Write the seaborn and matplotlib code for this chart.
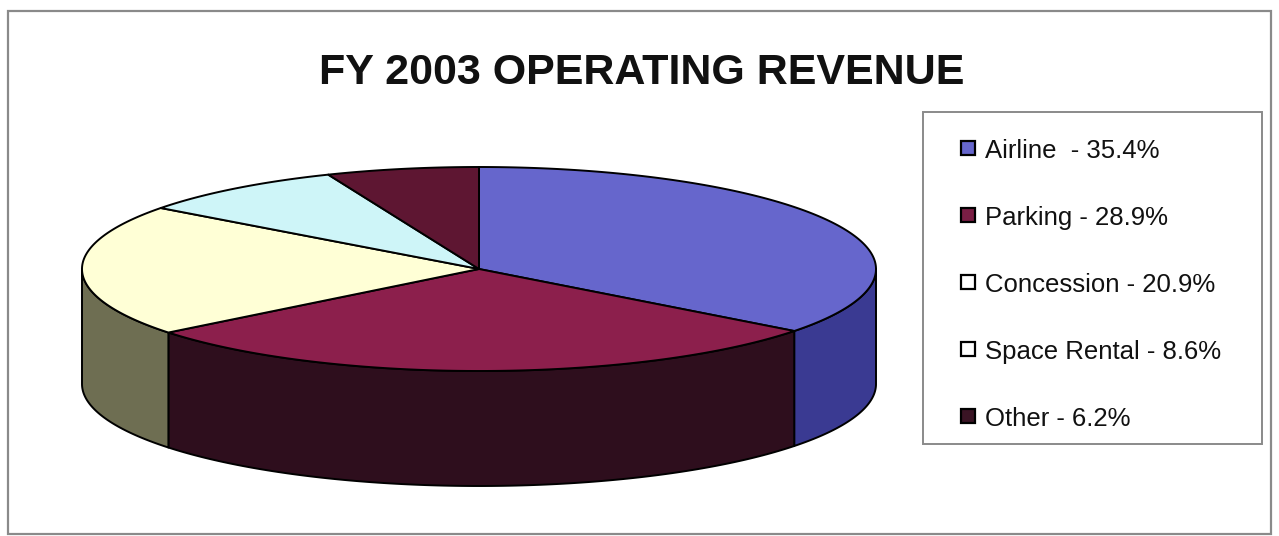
import numpy as np
import matplotlib
matplotlib.use("Agg")
import matplotlib.pyplot as plt
from matplotlib.patches import Polygon, Rectangle
import seaborn as sns

# ---- data ----
categories = ["Airline ", "Parking", "Concession", "Space Rental", "Other"]
shares = [35.4, 28.9, 20.9, 8.6, 6.2]
top_colors = ["#6666CC", "#8C1F4C", "#FFFFD6", "#CEF5F8", "#5E1632"]
side_colors = ["#3A3A92", "#2E0E1D", "#6E6E52", "#7E9EA0", "#300A18"]
legend_colors = ["#6666CC", "#7A1E44", "#FFFFFF", "#FFFFFF", "#3A1424"]
title = "FY 2003 OPERATING REVENUE"

sns.set_theme(style="white")
plt.rcParams["font.family"] = ["Liberation Sans", "DejaVu Sans"]

W, H = 1279, 536
fig = plt.figure(figsize=(W / 100, H / 100), dpi=100)
ax = fig.add_axes([0, 0, 1, 1])
ax.set_xlim(0, W)
ax.set_ylim(H, 0)
ax.axis("off")

# outer frame
ax.add_patch(Rectangle((8, 11), 1263, 523, fill=False, edgecolor="#8a8a8a", lw=1.6))

# pie geometry (layout)
cx, cy, rx, ry, depth = 479, 269, 397, 102, 115

def pt(t, dy=0.0):
    r = np.deg2rad(t)
    return cx + rx * np.cos(r), cy - ry * np.sin(r) + dy

vals = np.array(shares, dtype=float)
cum = np.concatenate([[0], np.cumsum(vals)]) / vals.sum()
starts = 90 - cum[1:] * 360   # clockwise from 12 o'clock
ends = 90 - cum[:-1] * 360

# side walls (front half: angles in [-180, 0])
for s, e, sc in zip(starts, ends, side_colors):
    lo, hi = max(s, -180), min(e, 0)
    if hi <= lo:
        continue
    ts = np.linspace(lo, hi, 120)
    top = [pt(t) for t in ts]
    bot = [pt(t, depth) for t in ts[::-1]]
    ax.add_patch(Polygon(top + bot, closed=True, facecolor=sc, edgecolor="black", lw=1.4, joinstyle="round"))

# top faces
for s, e, tc in zip(starts, ends, top_colors):
    ts = np.linspace(s, e, 200)
    verts = [(cx, cy)] + [pt(t) for t in ts]
    ax.add_patch(Polygon(verts, closed=True, facecolor=tc, edgecolor="black", lw=1.4, joinstyle="round"))

# title
ax.text(642, 84, title, ha="center", va="baseline", fontsize=31, fontweight="bold", color="#111111")

# legend (manual, Excel-like)
ax.add_patch(Rectangle((923, 112), 339, 332, fill=False, edgecolor="#8a8a8a", lw=1.4))
for i, (name, v, lc) in enumerate(zip(categories, shares, legend_colors)):
    yc = 149 + i * 67
    ax.add_patch(Rectangle((961, yc - 8), 14, 14, facecolor=lc, edgecolor="black", lw=1.6))
    ax.text(985, yc + 9, f"{name} - {v}%", ha="left", va="baseline", fontsize=18.5, color="#111111")

fig.savefig("out.png", dpi=100, facecolor="white")
